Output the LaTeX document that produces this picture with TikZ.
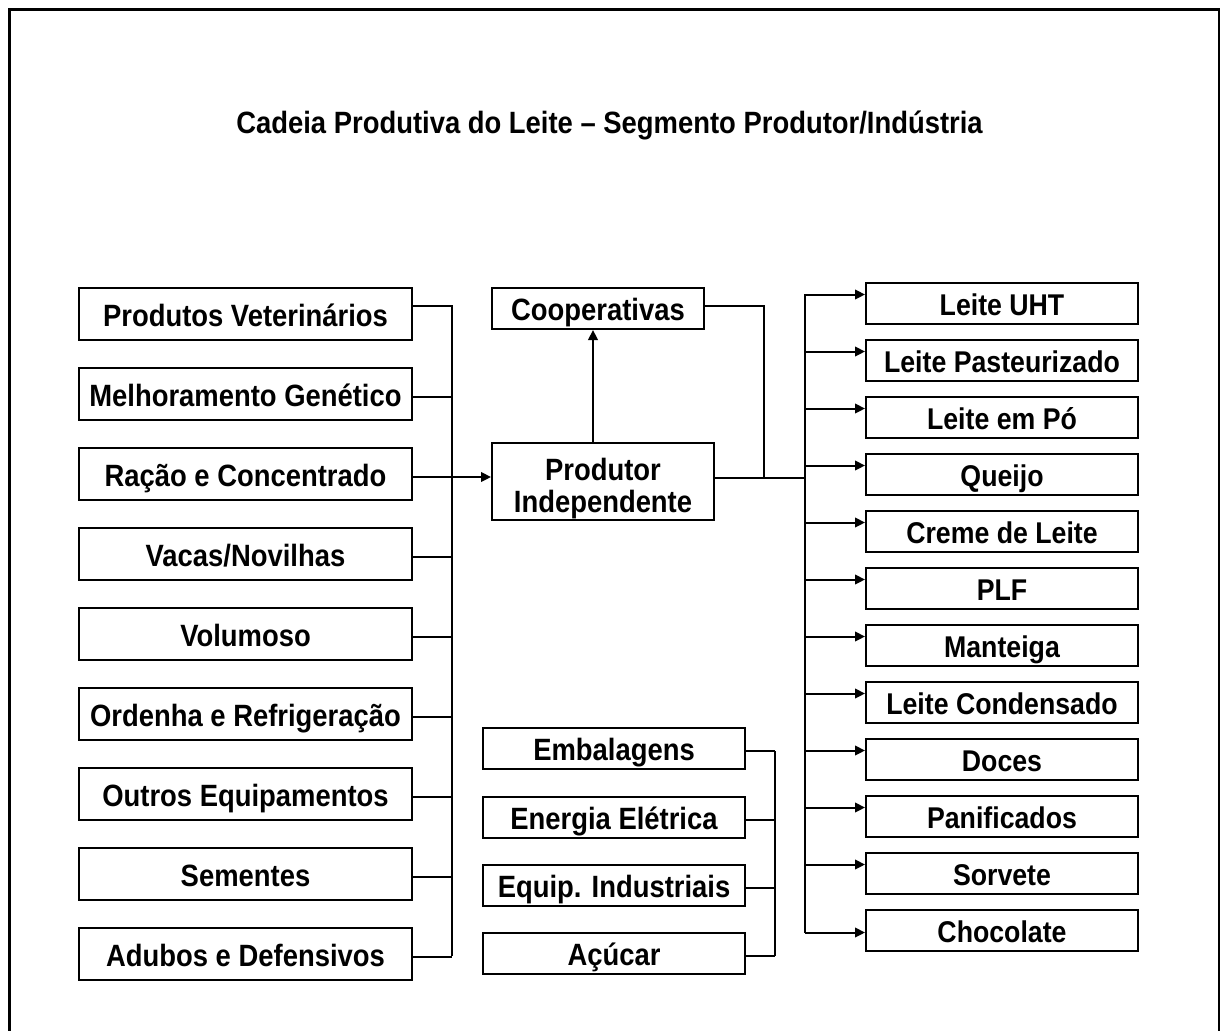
\documentclass[tikz,border=0pt]{standalone}
\usepackage{fontspec}
\setmainfont{Liberation Sans}[FakeStretch=0.89]
\usetikzlibrary{arrows.meta}
\begin{document}
\begin{tikzpicture}[x=0.5pt,y=-0.5pt,
  txt/.style={font=\fontsize{15.4}{16}\selectfont\bfseries},
  box/.style={txt,draw,line width=1pt,inner sep=0pt,align=center,text height=12pt,text depth=0pt},
  lbox/.style={box,minimum width=166.5pt,minimum height=26pt},
  rbox/.style={box,minimum width=136pt,minimum height=20.5pt,font=\fontsize{15}{16}\selectfont\bfseries},
  mbox/.style={box,minimum width=131pt,minimum height=20.5pt},
  conn/.style={line width=1pt},
  arr/.style={conn,-{Triangle[length=5pt,width=4.8pt]}}]
\useasboundingbox (0,0) rectangle (1220,1030);
\begin{scope}
\clip (0,0) rectangle (1220,1030);
\draw[line width=1.5pt] (9,9) rectangle (1219,1045);
\end{scope}

\node[txt] (title) at (609.5,125) {Cadeia Produtiva do Leite – Segmento Produtor/Indústria};

% left column
\node[lbox] (l1) at (245.5,314) {Produtos Veterinários};
\node[lbox] (l2) at (245.5,394) {Melhoramento Genético};
\node[lbox] (l3) at (245.5,474) {Ração e Concentrado};
\node[lbox] (l4) at (245.5,554) {Vacas/Novilhas};
\node[lbox] (l5) at (245.5,634) {Volumoso};
\node[lbox] (l6) at (245.5,714) {Ordenha e Refrigeração};
\node[lbox] (l7) at (245.5,794) {Outros Equipamentos};
\node[lbox] (l8) at (245.5,874) {Sementes};
\node[lbox] (l9) at (245.5,954) {Adubos e Defensivos};

% centre
\node[box,minimum width=111pt,minimum height=38.5pt,text height={},text depth={}] (prod) at (603,481.5)
  {\rule{0pt}{17.7pt}Produtor\\Independente};
\node[box,minimum width=106pt,minimum height=20.5pt] (coop) at (598,308.5) {Cooperativas};

% right column
\node[rbox] (r1) at (1002,303.5) {Leite UHT};
\node[rbox] (r2) at (1002,360.5) {Leite Pasteurizado};
\node[rbox] (r3) at (1002,417.5) {Leite em Pó};
\node[rbox] (r4) at (1002,474.5) {Queijo};
\node[rbox] (r5) at (1002,531.5) {Creme de Leite};
\node[rbox] (r6) at (1002,588.5) {PLF};
\node[rbox] (r7) at (1002,645.5) {Manteiga};
\node[rbox] (r8) at (1002,702.5) {Leite Condensado};
\node[rbox] (r9) at (1002,759.5) {Doces};
\node[rbox] (r10) at (1002,816.5) {Panificados};
\node[rbox] (r11) at (1002,873.5) {Sorvete};
\node[rbox] (r12) at (1002,930.5) {Chocolate};

% bottom middle
\node[mbox] (m1) at (614,748.5) {Embalagens};
\node[mbox] (m2) at (614,817) {Energia Elétrica};
\node[mbox] (m3) at (614,885.5) {Equip. Industriais};
\node[mbox] (m4) at (614,953.5) {Açúcar};

% bus coordinates
\coordinate (lbusT) at (452,306);
\coordinate (lbusB) at (452,956);
\coordinate (rbusT) at (805,294);
\coordinate (rbusB) at (805,933);
\coordinate (jn) at (764,478);
\coordinate (mbusT) at (775,751);
\coordinate (mbusB) at (775,956);

% left connectors
\draw[conn] ([yshift=4pt]l1.east) -- (lbusT) -- (lbusB);
\foreach \i in {2,...,9}
  \draw[conn] ([yshift=-1.5pt]l\i.east) coordinate (tmp) -- (tmp -| lbusT);
\path ([yshift=2.25pt]prod.west) coordinate (pin);
\draw[arr] (pin -| lbusT) -- (pin);

% producer to cooperatives
\path ([xshift=-5pt]prod.north) coordinate (pup);
\draw[arr] (pup) -- (pup |- coop.south);

% cooperatives and producer to products
\path ([yshift=1.25pt]coop.east) coordinate (ce);
\draw[conn] (ce) -| (jn);
\path ([yshift=1.75pt]prod.east) coordinate (pe);
\draw[conn] (pe) -- (pe -| rbusT);
\draw[conn] (rbusT) -- (rbusB);
\foreach \i in {1,...,11}
  \draw[arr] ([yshift=4.5pt]r\i.west) coordinate (ra) (ra -| rbusT) -- (ra);
\path ([yshift=-1pt]r12.west) coordinate (rl);
\draw[arr] (rl -| rbusT) -- (rl);

% bottom middle connectors
\foreach \i in {1,...,4}
  \draw[conn] ([yshift=-1.25pt]m\i.east) coordinate (tmp) -- (tmp -| mbusT);
\draw[conn] (mbusT) -- (mbusB);
\end{tikzpicture}
\end{document}
